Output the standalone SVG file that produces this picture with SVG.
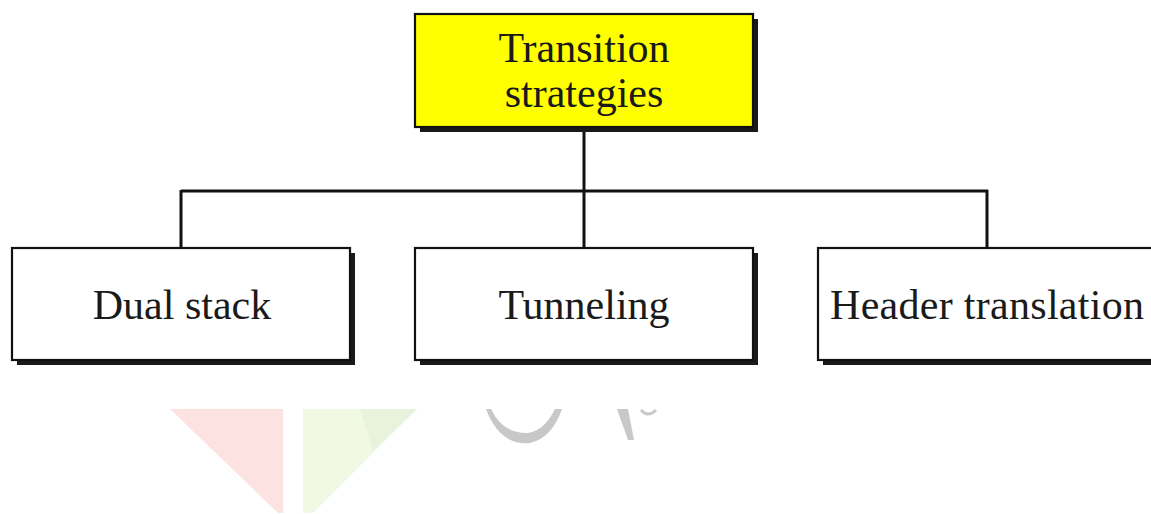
<svg xmlns="http://www.w3.org/2000/svg" width="1151" height="514" viewBox="0 0 1151 514">
  <style>
    .box { stroke: #111; stroke-width: 2.2; }
    .shadow { fill: #1a1a1a; }
    .lbl { font-family: "Liberation Serif", "Times New Roman", serif; font-size: 42px; fill: #1a1a1a; }
    .conn { fill: none; stroke: #111; stroke-width: 3; }
  </style>
  <rect width="1151" height="514" fill="#ffffff"/>
  <g id="watermark">
    <polygon points="170,409 283,409 283,513 278,513" fill="#fde2e2"/>
    <polygon points="303,409 417,409 313,513 303,513" fill="#f1f9e5"/>
    <polygon points="360,409 417,409 373,451" fill="#e8f3de"/>
    <path d="M486,409 Q500,446 530,443 Q552,438 562,409 L555,409 Q545,430 528,433 Q503,434 491,409 Z" fill="#c8c8c8"/>
    <polygon points="617,409 628,409 634,440 628,440" fill="#c8c8c8"/>
    <path d="M641,410 Q648,418 656,410" fill="none" stroke="#c8c8c8" stroke-width="3"/>
  </g>
  <g id="connectors">
    <line class="conn" x1="584" y1="127" x2="584" y2="191"/>
    <line class="conn" x1="181" y1="191" x2="988" y2="191"/>
    <line class="conn" x1="181" y1="190" x2="181" y2="248"/>
    <line class="conn" x1="584" y1="190" x2="584" y2="248"/>
    <line class="conn" x1="987" y1="190" x2="987" y2="248"/>
  </g>
  <g id="node-transition">
    <rect class="shadow" x="420" y="19" width="338" height="113"/>
    <rect class="box" x="415" y="14" width="338" height="113" fill="#ffff00"/>
    <text class="lbl" x="584" y="62" text-anchor="middle">Transition</text>
    <text class="lbl" x="584" y="107" text-anchor="middle">strategies</text>
  </g>
  <g id="node-dual">
    <rect class="shadow" x="17" y="253" width="338" height="112"/>
    <rect class="box" x="12" y="248" width="338" height="112" fill="#ffffff"/>
    <text class="lbl" x="182" y="319" text-anchor="middle">Dual stack</text>
  </g>
  <g id="node-tunneling">
    <rect class="shadow" x="420" y="253" width="338" height="112"/>
    <rect class="box" x="415" y="248" width="338" height="112" fill="#ffffff"/>
    <text class="lbl" x="584" y="319" text-anchor="middle">Tunneling</text>
  </g>
  <g id="node-header">
    <rect class="shadow" x="823" y="253" width="340" height="112"/>
    <rect class="box" x="818" y="248" width="340" height="112" fill="#ffffff"/>
    <text class="lbl" x="830" y="319" textLength="314" lengthAdjust="spacing">Header translation</text>
  </g>
</svg>
